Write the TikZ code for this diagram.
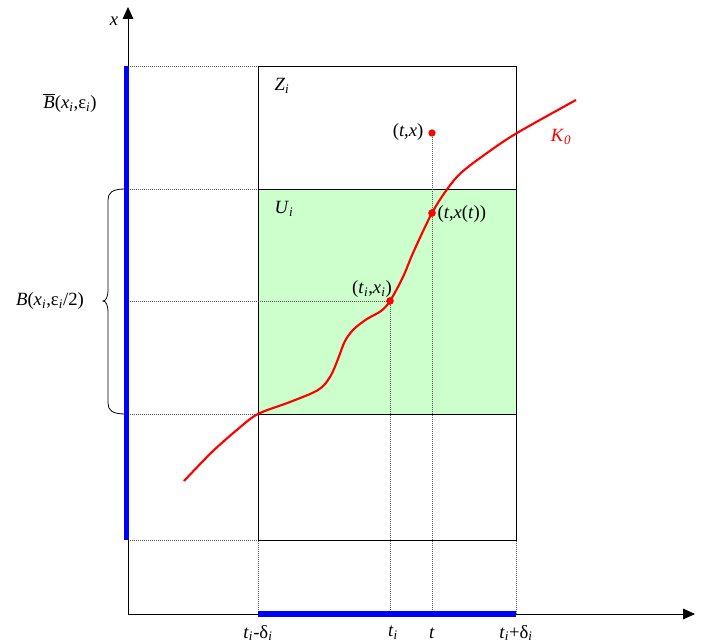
\documentclass[tikz,border=0pt]{standalone}
\usepackage{fontspec}
\setmainfont{Liberation Serif}
\usepackage{tikz}
\usetikzlibrary{calc,positioning,arrows.meta}
\usepackage{xcolor}
\definecolor{RegionGreen}{HTML}{CCFFCC}
\definecolor{CurveRed}{HTML}{FF0000}
\definecolor{BarBlue}{HTML}{0000FF}
\definecolor{GuideGray}{HTML}{555555}
\newcommand{\sub}[1]{\textsubscript{\itshape #1}}

\begin{document}
\begin{tikzpicture}[x=0.75pt,y=0.75pt,
	dotline/.style={densely dotted,GuideGray,line width=0.5pt},
	bluebar/.style={BarBlue,line width=3.8pt},
	redpt/.style={circle,fill=CurveRed,inner sep=0pt,minimum size=5.5pt},
	lbl/.style={font=\fontsize{14}{16}\selectfont,inner sep=1pt}]
				\useasboundingbox (0,0) rectangle (702,643);
				% 坐标原点与区域角点
				\coordinate (O) at (128,29);
				\coordinate (xend) at (695,29);
				\coordinate (yend) at (128,636);
				\coordinate (Zsw) at (258,103);
				\coordinate (Zne) at (516,577);
				\coordinate (Usw) at (258,229);
				\coordinate (Une) at (516,454);
				% U_i 区域
				\fill[RegionGreen] (Usw) rectangle (Une);
				\draw[line width=0.6pt] (Zsw) rectangle (Zne);
				\draw[line width=0.6pt] (Usw) -- (Usw -| Une);
				\draw[line width=0.6pt] (Une -| Usw) -- (Une);
				% 点
				\node[redpt] (P) at (390,342) {};
				\node[redpt] (Q) at (432,430) {};
				\node[redpt] (R) at (432,510) {};
				% 虚线
				\draw[dotline] (O |- Zne) -- (Zsw |- Zne);
				\draw[dotline] (O |- Une) -- (Usw |- Une);
				\draw[dotline] (O |- Usw) -- (Usw);
				\draw[dotline] (O |- Zsw) -- (Zsw);
				\draw[dotline] (O -| Zsw) -- (Zsw);
				\draw[dotline] (O -| Zne) -- (Zsw -| Zne);
				\draw[dotline] (O |- P.center) -- (P.center);
				\draw[dotline] (O -| P.center) -- (P.center);
				\draw[dotline] (O -| R.center) -- (R.center);
				% 坐标轴
				\draw[line width=0.6pt,-{Triangle[length=9pt,width=8pt]}] (O) -- (xend);
				\draw[line width=0.6pt,-{Triangle[length=9pt,width=8pt]}] (O) -- (yend);
				\draw[bluebar] (126.5,103) -- (126.5,577);
				\draw[bluebar] (O -| Zsw) -- (O -| Zne);
				% 曲线 K_0
				\draw[CurveRed, line width=1.6pt] plot[smooth, tension=0.55] coordinates {
					(184,162) (212,191) (238,214) (258,229) (290,241) (318,253) (330,266)
					(338,284) (345,302) (354,314) (367,324) (381,332) (390,342)
					(403,366) (413,390) (432,430) (448,455) (462,471) (487,490)
					(517,510) (576,543)};
				\node[redpt] at (P) {};
				\node[redpt] at (Q) {};
				% 括号
				\draw[line width=0.6pt] (125,454) .. controls (112,454) and (108,450) .. (108,443)
					-- (108,354) .. controls (108,346) and (106,342) .. (103,342)
					.. controls (106,342) and (108,338) .. (108,330)
					-- (108,240) .. controls (108,233) and (112,229) .. (125,229);
				% 标注
				\node[lbl] (xlab) at (114,622) {\textit{x}};
				\node[lbl] (Bbar) at (70,540) {$\overline{\mbox{\textit{B}}}$(\textit{x}\sub{i},ε\sub{i})};
				\node[lbl] (Bhalf) at (50,342) {\textit{B}(\textit{x}\sub{i},ε\sub{i}/2)};
				\node[lbl] (Zlab) at (282,557) {\textit{Z}\sub{i}};
				\node[lbl] (Ulab) at (284,434) {\textit{U}\sub{i}};
				\node[lbl] (Plab) at (372,354) {(\textit{t}\sub{i},\textit{x}\sub{i})};
				\node[lbl,anchor=west] (Qlab) at (436,429) {(\textit{t},\textit{x}(\textit{t}))};
				\node[lbl,anchor=east] (Rlab) at (425,511) {(\textit{t},\textit{x})};
				\node[lbl,CurveRed] (Klab) at (561,506) {\textit{K}\sub{0}};
				\node[lbl] (tminus) at (258,10) {\textit{t}\sub{i}-δ\sub{i}};
				\node[lbl] (tilab) at (393,10) {\textit{t}\sub{i}};
				\node[lbl] (tlab) at (432,10) {\textit{t}};
				\node[lbl] (tplus) at (516,10) {\textit{t}\sub{i}+δ\sub{i}};
			\end{tikzpicture}
\end{document}
